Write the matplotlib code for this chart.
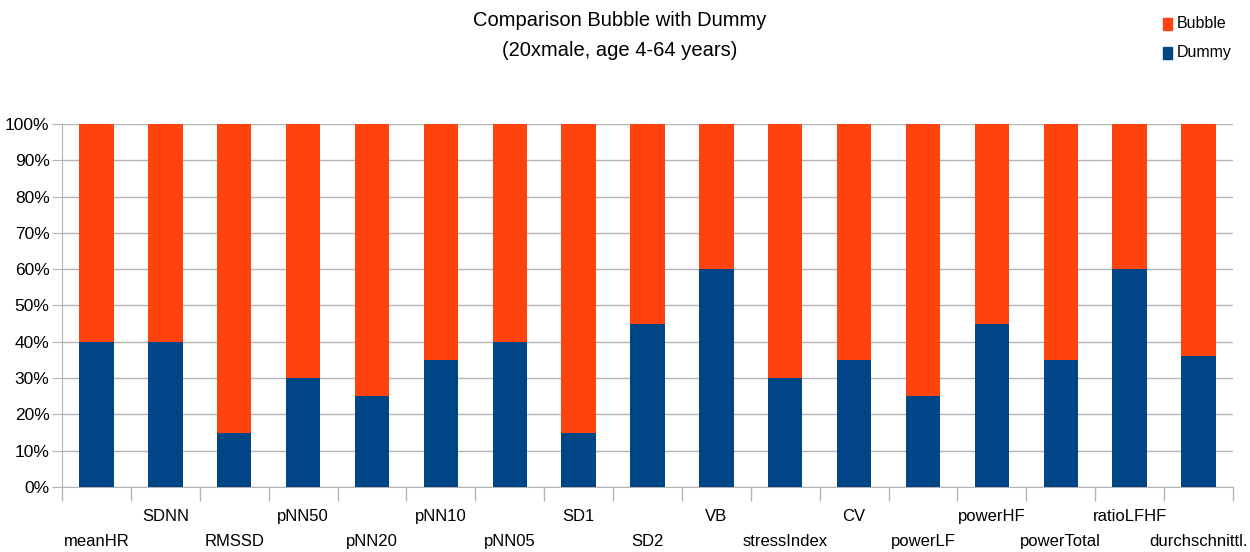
import matplotlib.pyplot as plt
import numpy as np
from matplotlib.patches import Rectangle

plt.rcParams['font.family'] = ['Liberation Sans Narrow', 'Liberation Sans', 'DejaVu Sans']

CATEGORIES = ['meanHR', 'SDNN', 'RMSSD', 'pNN50', 'pNN20', 'pNN10', 'pNN05', 'SD1',
              'SD2', 'VB', 'stressIndex', 'CV', 'powerLF', 'powerHF', 'powerTotal',
              'ratioLFHF', 'durchschnittl.']
DUMMY = [40, 40, 15, 30, 25, 35, 40, 15, 45, 60, 30, 35, 25, 45, 35, 60, 36]
BUBBLE = [100 - d for d in DUMMY]

BLUE = '#004586'
ORANGE = '#ff420e'
GRID = '#b3b3b3'

fig = plt.figure(figsize=(12.5, 5.52), dpi=100)
ax = fig.add_axes([0.0496, 0.1178, 0.9368, 0.6576])

x = np.arange(len(CATEGORIES))
ax.bar(x, DUMMY, width=0.5, color=BLUE, zorder=3)
ax.bar(x, BUBBLE, width=0.5, bottom=DUMMY, color=ORANGE, zorder=3)

ax.set_xlim(-0.5, len(CATEGORIES) - 0.5)
ax.set_ylim(0, 100)
ax.set_yticks(np.arange(0, 101, 10))
ax.set_yticklabels([f'{v}%' for v in range(0, 101, 10)], fontsize=12.5)
ax.yaxis.grid(True, color=GRID, linewidth=1, zorder=0)
ax.tick_params(axis='y', length=7, color=GRID, pad=2)

# category boundaries as ticks below the axis
ax.set_xticks(np.arange(-0.5, len(CATEGORIES)))
ax.set_xticklabels([])
ax.tick_params(axis='x', length=10, color=GRID, width=1)

# staggered category labels
for i, name in enumerate(CATEGORIES):
    y_off = -34 if i % 2 == 0 else -16
    ax.annotate(name, xy=(i, 0), xycoords='data', xytext=(0, y_off),
                textcoords='offset points', ha='center', va='top', fontsize=12)

for side in ['top', 'right']:
    ax.spines[side].set_visible(False)
ax.spines['left'].set_color(GRID)
ax.spines['bottom'].set_color(GRID)

fig.text(0.496, 0.963, 'Comparison Bubble with Dummy', ha='center', va='center', fontsize=14.5)
fig.text(0.496, 0.909, '(20xmale, age 4-64 years)', ha='center', va='center', fontsize=14.5)

# legend
for j, (label, color) in enumerate([('Bubble', ORANGE), ('Dummy', BLUE)]):
    yc = 0.957 - j * 0.053
    fig.patches.append(Rectangle((0.9305, yc - 0.011), 0.0072, 0.022, color=color,
                                 transform=fig.transFigure, figure=fig))
    fig.text(0.9415, yc, label, ha='left', va='center', fontsize=11.5)

fig.savefig('out.png', dpi=100)
